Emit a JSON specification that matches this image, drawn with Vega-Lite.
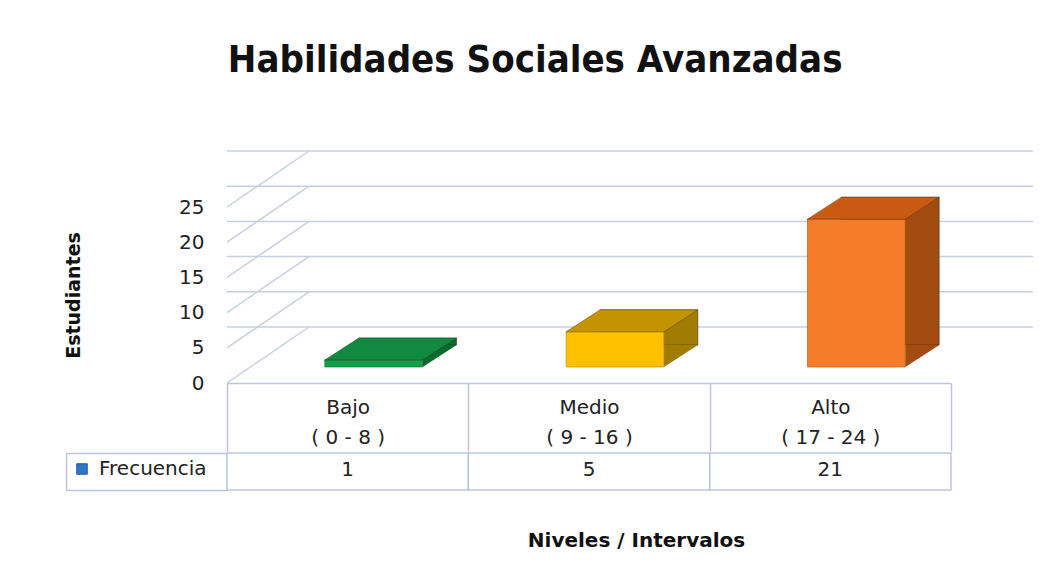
{
  "$schema": "https://vega.github.io/schema/vega-lite/v6.json",
  "background": "white",
  "padding": {"left": 64, "top": 42, "right": 5, "bottom": 5},
  "title": {
    "text": "Habilidades  Sociales Avanzadas",
    "font": "Liberation Sans Narrow, DejaVu Sans Condensed, Liberation Sans",
    "fontSize": 38,
    "fontWeight": "bold",
    "color": "#111111",
    "anchor": "middle",
    "dx": -14,
    "offset": 70
  },
  "config": {
    "view": {"stroke": null},
    "font": "DejaVu Sans",
    "axis": {"labelFont": "DejaVu Sans", "titleFont": "DejaVu Sans"},
    "legend": {"labelFont": "DejaVu Sans"}
  },
  "datasets": {
    "niveles": [
      {"nivel": "Bajo\n( 0 - 8 )", "frecuencia": 1},
      {"nivel": "Medio\n( 9 - 16 )", "frecuencia": 5},
      {"nivel": "Alto\n( 17 - 24 )", "frecuencia": 21}
    ],
    "marcas": [{"t": 0}, {"t": 5}, {"t": 10}, {"t": 15}, {"t": 20}, {"t": 25}]
  },
  "spacing": 0,
  "vconcat": [
    {
      "width": 724,
      "height": 176,
      "data": {"name": "niveles"},
      "resolve": {"scale": {"fill": "independent", "stroke": "independent"}},
      "encoding": {
        "x": {
          "field": "nivel", "type": "nominal", "sort": null,
          "scale": {"domain": ["Bajo\n( 0 - 8 )", "Medio\n( 9 - 16 )", "Alto\n( 17 - 24 )"], "paddingInner": 0, "paddingOuter": 0},
          "axis": {
            "orient": "bottom", "title": null, "grid": false, "labelAngle": 0,
            "domain": true, "domainColor": "#BAC7DA", "domainWidth": 1.5,
            "ticks": true, "tickBand": "extent", "tickSize": 68, "tickColor": "#BAC7DA", "tickWidth": 1.5,
            "labelPadding": -54, "labelFontSize": 20, "labelLineHeight": 30,
            "labelBaseline": "top", "labelColor": "#222222",
            "labelExpr": "split(datum.label, '\\n')"
          }
        },
        "y": {
          "field": "frecuencia", "type": "quantitative",
          "scale": {"domain": [0, 25], "nice": false, "zero": true},
          "axis": {
            "orient": "left", "values": [0, 5, 10, 15, 20, 25],
            "domain": false, "ticks": false, "grid": false,
            "labelPadding": 23, "labelFontSize": 20, "labelColor": "#222222",
            "title": "Estudiantes", "titleFontSize": 19, "titleFontWeight": "bold",
            "titleColor": "#111111", "titlePadding": 95
          }
        }
      },
      "layer": [
        {
          "data": {"name": "marcas"},
          "mark": {"type": "rule", "color": "#C6D0E0", "strokeWidth": 1.5, "xOffset": 82, "x2Offset": 82, "yOffset": -56, "y2Offset": -56},
          "encoding": {
            "x": null,
            "y": {
              "field": "t", "type": "quantitative",
              "axis": {
                "orient": "left", "values": [0, 5, 10, 15, 20, 25],
                "domain": false, "ticks": false, "grid": false,
                "labelPadding": 23, "labelFontSize": 20, "labelColor": "#222222",
                "title": "Estudiantes", "titleFontSize": 19, "titleFontWeight": "bold",
                "titleColor": "#111111", "titlePadding": 95
              }
            }
          }
        },
        {
          "data": {"name": "marcas"},
          "mark": {"type": "rule", "color": "#C6D0E0", "strokeWidth": 1.5, "x2Offset": 82, "y2Offset": -56},
          "encoding": {
            "x": {"datum": "Bajo\n( 0 - 8 )", "type": "nominal", "bandPosition": 0,
              "axis": {
                "orient": "bottom", "title": null, "grid": false, "labelAngle": 0,
                "domain": true, "domainColor": "#BAC7DA", "domainWidth": 1.5,
                "ticks": true, "tickBand": "extent", "tickSize": 68, "tickColor": "#BAC7DA", "tickWidth": 1.5,
                "labelPadding": -54, "labelFontSize": 20, "labelLineHeight": 30,
                "labelBaseline": "top", "labelColor": "#222222",
                "labelExpr": "split(datum.label, '\\n')"
              }},
            "x2": {"datum": "Bajo\n( 0 - 8 )", "bandPosition": 0},
            "y": {
              "field": "t", "type": "quantitative",
              "axis": {
                "orient": "left", "values": [0, 5, 10, 15, 20, 25],
                "domain": false, "ticks": false, "grid": false,
                "labelPadding": 23, "labelFontSize": 20, "labelColor": "#222222",
                "title": "Estudiantes", "titleFontSize": 19, "titleFontWeight": "bold",
                "titleColor": "#111111", "titlePadding": 95
              }
            },
            "y2": {"field": "t"}
          }
        },
        {
          "mark": {"type": "bar", "width": {"band": 0.405}, "xOffset": 60, "yOffset": -38, "y2Offset": -38, "stroke": "#2a1a05", "strokeOpacity": 0.45, "strokeWidth": 1},
          "encoding": {
            "fill": {
              "field": "nivel", "type": "nominal", "legend": null,
              "scale": {"domain": ["Bajo\n( 0 - 8 )", "Medio\n( 9 - 16 )", "Alto\n( 17 - 24 )"], "range": ["#0B6A30", "#A07C00", "#A24C11"]}
            }
          }
        },
        {
          "mark": {"type": "point", "shape": "M0,0L0.68,-0.44L0,-0.44Z", "size": 10000, "filled": true, "opacity": 1, "strokeWidth": 0, "xOffset": 75, "yOffset": -16},
          "encoding": {
            "y": {"datum": 0, "type": "quantitative"},
            "fill": {
              "field": "nivel", "type": "nominal", "legend": null,
              "scale": {"domain": ["Bajo\n( 0 - 8 )", "Medio\n( 9 - 16 )", "Alto\n( 17 - 24 )"], "range": ["#0B6A30", "#A07C00", "#A24C11"]}
            }
          }
        },
        {
          "mark": {"type": "bar", "width": {"band": 0.405}, "xOffset": 26, "yOffset": -16, "y2Offset": -16, "strokeWidth": 1, "strokeOpacity": 0.6},
          "encoding": {
            "fill": {
              "field": "nivel", "type": "nominal", "legend": null,
              "scale": {"domain": ["Bajo\n( 0 - 8 )", "Medio\n( 9 - 16 )", "Alto\n( 17 - 24 )"], "range": ["#14A049", "#FFC000", "#F47C2A"]}
            },
            "stroke": {
              "field": "nivel", "type": "nominal", "legend": null,
              "scale": {"domain": ["Bajo\n( 0 - 8 )", "Medio\n( 9 - 16 )", "Alto\n( 17 - 24 )"], "range": ["#0B6A30", "#B08600", "#B0500F"]}
            }
          }
        },
        {
          "mark": {"type": "point", "shape": "M0,0L1.96,0L2.64,-0.44L0.68,-0.44Z", "size": 10000, "filled": true, "opacity": 1, "stroke": "#2a1a05", "strokeOpacity": 0.4, "strokeWidth": 0.8, "xOffset": -23, "yOffset": -16},
          "encoding": {
            "fill": {
              "field": "nivel", "type": "nominal", "legend": null,
              "scale": {"domain": ["Bajo\n( 0 - 8 )", "Medio\n( 9 - 16 )", "Alto\n( 17 - 24 )"], "range": ["#118A3F", "#C49400", "#C95A14"]}
            }
          }
        }
      ]
    },
    {
      "width": 724,
      "height": 37,
      "data": {"name": "niveles"},
      "encoding": {
        "x": {
          "field": "nivel", "type": "nominal", "sort": null,
          "scale": {"domain": ["Bajo\n( 0 - 8 )", "Medio\n( 9 - 16 )", "Alto\n( 17 - 24 )"], "paddingInner": 0, "paddingOuter": 0},
          "axis": {
            "labels": false, "ticks": false, "domain": false, "grid": false,
            "title": "Niveles / Intervalos", "titleFontSize": 20, "titleFontWeight": "bold",
            "titleColor": "#111111", "titlePadding": 40, "titleX": 409
          }
        },
        "y": {
          "datum": "Frecuencia", "type": "nominal",
          "scale": {"paddingInner": 0, "paddingOuter": 0},
          "axis": {
            "orient": "left", "title": null, "offset": 161, "grid": false,
            "domain": true, "domainColor": "#BAC7DA", "domainWidth": 1.5,
            "ticks": true, "tickBand": "extent", "tickSize": -161, "tickColor": "#BAC7DA", "tickWidth": 1.5,
            "labels": false
          }
        }
      },
      "layer": [
        {
          "mark": {"type": "rect", "fillOpacity": 0, "stroke": "#BAC7DA", "strokeWidth": 1.5},
          "encoding": {
            "fill": {
              "datum": "Frecuencia", "type": "nominal",
              "scale": {"range": ["#2E75C2"]},
              "legend": {
                "orient": "none", "legendX": -155, "legendY": 252, "title": null,
                "symbolType": "square", "symbolSize": 110, "symbolOpacity": 1,
                "symbolFillColor": "#2E75C2", "symbolStrokeColor": "#1D5AA6", "symbolStrokeWidth": 1,
                "labelFontSize": 20, "labelColor": "#222222", "labelOffset": 7
              }
            }
          }
        },
        {
          "mark": {"type": "text", "fontSize": 20, "color": "#222222", "dy": -2},
          "encoding": {"text": {"field": "frecuencia", "type": "quantitative"}}
        }
      ]
    }
  ]
}
